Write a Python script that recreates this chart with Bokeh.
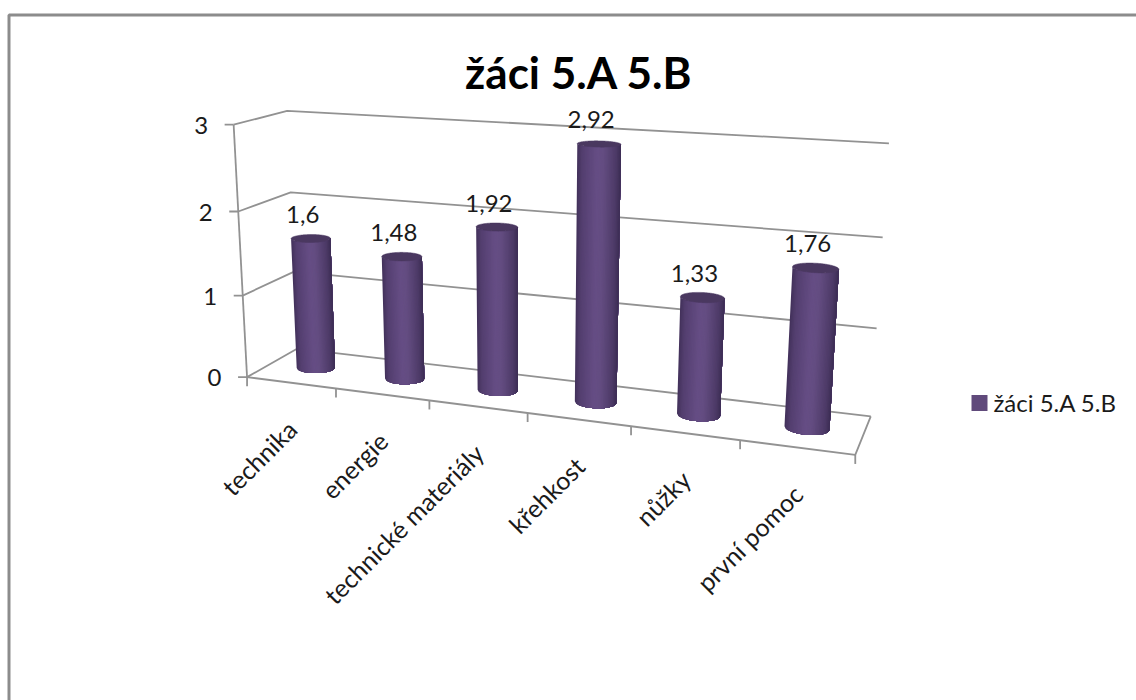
import numpy as np
from bokeh.core.properties import value
from bokeh.embed import file_html
from bokeh.models import ColumnDataSource, Range1d
from bokeh.plotting import figure
from bokeh.resources import INLINE

TITLE = "žáci 5.A 5.B"
SERIES = "žáci 5.A 5.B"
categories = ["technika", "energie", "technické materiály", "křehkost", "nůžky", "první pomoc"]
values = [1.6, 1.48, 1.92, 2.92, 1.33, 1.76]
value_labels = ["1,6", "1,48", "1,92", "2,92", "1,33", "1,76"]
y_ticks = [0, 1, 2, 3]
y_tick_labels = ["0", "1", "2", "3"]

FONT = "Lato"
GRID = "#929292"
INK = "#1a1a1a"
SWATCH = "#604a7b"
TOP_CAP = "#4a3860"

# Perspective camera of the 3-D plot box, fitted from where the box's corners and
# category ticks sit on the page: (category position, depth, value) -> (px, py).
camera_anchors = [
    (0, 0, 0, 248, 376), (0, 0, 1, 242, 296), (0, 0, 2, 237, 211), (0, 0, 3, 232, 124),
    (0, 1, 0, 295, 349), (0, 1, 1, 293.5, 270), (0, 1, 2, 291, 192), (0, 1, 3, 288, 111),
    (6, 1, 0, 870, 415), (6, 1, 1, 877, 329), (6, 1, 2, 882, 237), (6, 1, 3, 888, 142),
    (6, 0, 0, 854, 455), (1, 0, 0, 336, 387.5), (2, 0, 0, 429, 399.5), (3, 0, 0, 527, 412.5),
    (4, 0, 0, 631, 426), (5, 0, 0, 740, 440),
]


def fit_camera(anchors):
    rows = []
    for c, d, v, px, py in anchors:
        rows.append([c, d, v, 1, 0, 0, 0, 0, -px * c, -px * d, -px * v, -px])
        rows.append([0, 0, 0, 0, c, d, v, 1, -py * c, -py * d, -py * v, -py])
    _, _, vt = np.linalg.svd(np.array(rows, dtype=float))
    return vt[-1].reshape(3, 4)


CAMERA = fit_camera(camera_anchors)


def project(c, d, v):
    c, d, v = np.broadcast_arrays(np.asarray(c, float), np.asarray(d, float), np.asarray(v, float))
    pts = CAMERA @ np.stack([c, d, v, np.ones_like(c)])
    return pts[0] / pts[2], pts[1] / pts[2]


def path(*corners):
    xs, ys = project(*np.array(corners, float).T)
    return list(xs), list(ys)


p = figure(width=1136, height=700, x_range=Range1d(0, 1136), y_range=Range1d(700, 0),
           output_backend="svg", toolbar_location=None, min_border=0,
           background_fill_color="white", border_fill_color="white", outline_line_color=None)
p.axis.visible = False
p.grid.visible = False

# Chart frame: only its top and left edges fall on the page
p.line([8.5, 8.5, 1136], [700, 14.5, 14.5], line_color="#8c8c8c", line_width=3)

# Walls and floor of the plot box
LINE_W = 1.8
for v in y_ticks:
    xs, ys = path((0, 0, v), (0, 1, v), (6, 1, v))
    p.line(xs, ys, line_color=GRID, line_width=LINE_W)
    xs, ys = project(0, 0, v)
    p.line([xs - 9, xs], [ys, ys], line_color=GRID, line_width=LINE_W)
xs, ys = path((0, 0, 0), (0, 0, 3))
p.line(xs, ys, line_color=GRID, line_width=LINE_W)
xs, ys = path((0, 0, 0), (6, 0, 0), (6, 1, 0))
p.line(xs, ys, line_color=GRID, line_width=LINE_W)
for i in range(len(categories) + 1):
    xs, ys = project(i, 0, 0)
    p.line([xs, xs], [ys, ys + 9], line_color=GRID, line_width=LINE_W)

for v, label in zip(y_ticks, y_tick_labels):
    xs, ys = project(0, 0, v)
    p.text([xs - 32.5], [ys + 0.5], text=[label], text_font=value(FONT), text_font_size="24px",
           text_color=INK, text_align="center", text_baseline="middle")

# Cylinders: each colour band is a polygon running from its arc to the right silhouette and
# the next band paints over it, so the shading has no seams
RADIUS_C, RADIUS_D, DEPTH = 0.2, 0.17, 0.5
BANDS = 34
shade_at = [0.0, 0.12, 0.45, 0.6, 0.88, 1.0]
shade_r = [66, 84, 102, 100, 78, 60]
shade_g = [49, 63, 78, 77, 59, 45]
shade_b = [90, 112, 133, 130, 104, 84]
ring = np.linspace(0, 2 * np.pi, 145)


def rim(i, level, angles):
    return project(i + 0.5 + RADIUS_C * np.cos(angles), DEPTH + RADIUS_D * np.sin(angles), level)


for i, val in enumerate(values):
    # Find the silhouette angles, then step evenly across the page between them
    dense = np.linspace(np.pi / 2, 5 * np.pi / 2, 721)
    dx, _ = rim(i, 0, dense)
    t_left, t_right = dense[np.argmin(dx)], dense[np.argmax(dx)]
    steps = np.linspace(-1, 1, BANDS + 1)
    angles = (t_left + t_right) / 2 + (t_right - t_left) / 2 * np.arcsin(steps) / (np.pi / 2)
    bx, by = rim(i, 0, angles)
    tx, ty = rim(i, val, angles)
    band_x, band_y, band_colors = [], [], []
    for k in range(BANDS):
        band_x.append(list(bx[k:]) + list(tx[k:][::-1]))
        band_y.append(list(by[k:]) + list(ty[k:][::-1]))
        rgb = [int(np.interp((k + 0.5) / BANDS, shade_at, s)) for s in (shade_r, shade_g, shade_b)]
        band_colors.append("#%02x%02x%02x" % tuple(rgb))
    p.patches(band_x, band_y, fill_color=band_colors, line_color=None)
    cap_x, cap_y = rim(i, val, ring)
    p.patch(list(cap_x), list(cap_y), fill_color=TOP_CAP, line_color=TOP_CAP, line_width=0.5)

    # Value label above the top of the cylinder
    cx, cy = project(i + 0.5, DEPTH, val)
    p.text([float(cx) - 8], [float(cy) - 24], text=[value_labels[i]], text_font=value(FONT),
           text_font_size="24px", text_color=INK, text_align="center", text_baseline="middle")

# Category labels, slanted and ending just below the category centre
for i, name in enumerate(categories):
    cx, cy = project(i + 0.5, 0, 0)
    p.text([float(cx) + 1], [float(cy) + 42], text=[name], angle=[np.pi / 4],
           text_font=value(FONT), text_font_size="25px", text_color=INK,
           text_align="right", text_baseline="middle")

# Chart title
p.text([578.5], [71], text=[TITLE], text_font=value(FONT), text_font_style="bold",
       text_font_size="44px", text_color="#000000", text_align="center", text_baseline="middle")

# Legend
legend = ColumnDataSource(dict(x=[979], y=[402.5]))
p.rect("x", "y", width=16, height=16, source=legend, fill_color=SWATCH, line_color=None)
p.text([993], [402], text=[SERIES], text_font=value(FONT), text_font_size="24px",
       text_color=INK, text_align="left", text_baseline="middle")

open("out.html", "w").write(file_html(p, INLINE))
